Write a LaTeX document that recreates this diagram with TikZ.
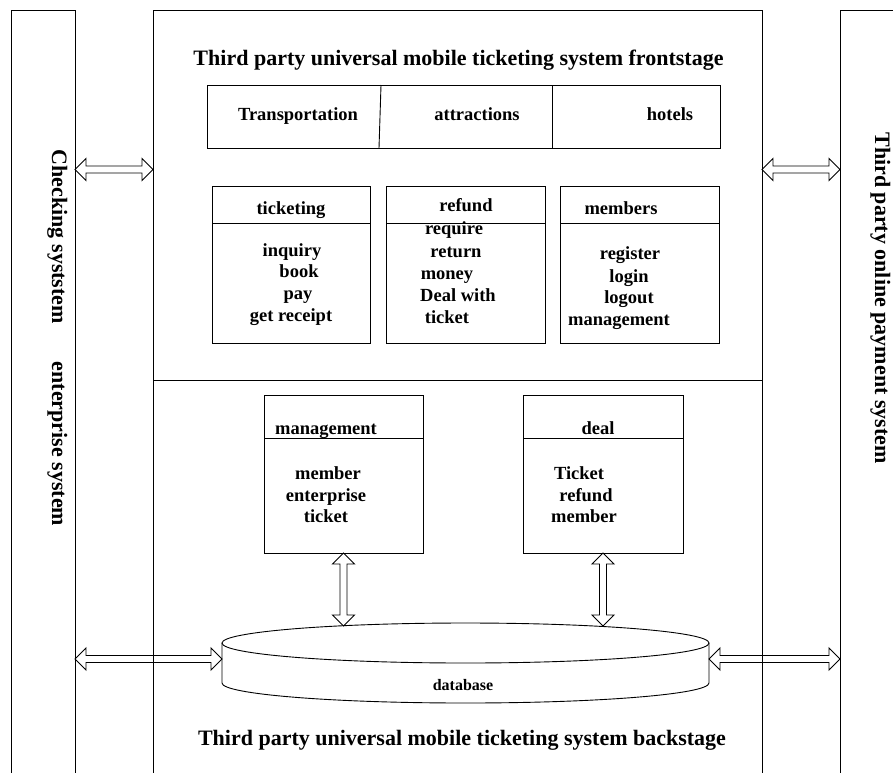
\documentclass[tikz,border=0pt]{standalone}
\usepackage{fontspec}
\setmainfont{Liberation Serif}
\usetikzlibrary{calc,shapes.geometric}

\def\ahead{11pt}   % head length
\def\awide{11pt}   % head half width
\def\ashaft{3.5pt} % shaft half width

\tikzset{
  barbox/.style={
    draw,
    rectangle,
    inner sep=0pt,
    outer sep=0pt
  },
  bigtxt/.style={
    font=\fontsize{22}{26}\selectfont\bfseries,
    inner sep=0pt,
    text height=15pt,
    text depth=5pt
  },
  itemtxt/.style={
    font=\fontsize{18.5}{22}\selectfont\bfseries,
    inner sep=0pt,
    text height=13pt,
    text depth=4.5pt
  },
  blockarrow/.style={to path={
    -- ($(\tikztostart)!\ahead!(\tikztotarget)!\awide!90:(\tikztotarget)$)
    -- ($(\tikztostart)!\ahead!(\tikztotarget)!\ashaft!90:(\tikztotarget)$)
    -- ($(\tikztotarget)!\ahead!(\tikztostart)!\ashaft!-90:(\tikztostart)$)
    -- ($(\tikztotarget)!\ahead!(\tikztostart)!\awide!-90:(\tikztostart)$)
    -- (\tikztotarget)
    -- ($(\tikztotarget)!\ahead!(\tikztostart)!\awide!90:(\tikztostart)$)
    -- ($(\tikztotarget)!\ahead!(\tikztostart)!\ashaft!90:(\tikztostart)$)
    -- ($(\tikztostart)!\ahead!(\tikztotarget)!\ashaft!-90:(\tikztotarget)$)
    -- ($(\tikztostart)!\ahead!(\tikztotarget)!\awide!-90:(\tikztotarget)$)
    -- cycle}}
}

\begin{document}
\begin{tikzpicture}[x=1pt,y=1pt,line width=0.9pt]

    \clip (0,0) rectangle (893,-772);

    % side systems and the two stages
    \node[barbox, minimum width=64pt, minimum height=780pt] (chk) at (43,-400) {};
    \node[barbox, minimum width=70pt, minimum height=780pt] (pay) at (875,-400) {};
    \node[barbox, minimum width=609pt, minimum height=370pt] (front) at (457.5,-195) {};
    \node[barbox, minimum width=609pt, minimum height=410pt] (back) at (457.5,-585) {};

    \node[bigtxt, rotate=-90] (chklbl) at (57,-338)
        {Checking syststem\hspace{38pt}enterprise system};
    \node[bigtxt, rotate=-90] (paylbl) at (880,-298)
        {Third party online payment system};

    % titles
    \node[bigtxt] (fronttitle) at (458.5,-60)
        {Third party universal mobile ticketing system frontstage};
    \node[bigtxt] (backtitle) at (462,-740)
        {Third party universal mobile ticketing system backstage};

    % categories
    \draw (207,-85) rectangle (720,-148);
    \draw (381,-85) -- (379,-148);
    \draw (552,-85) -- (552,-148);
    \foreach \tx/\x [count=\i] in {Transportation/298, attractions/477, hotels/670} {
        \node[itemtxt] (cat\i) at (\x,-116) {\tx};
    }

    % frontstage modules
    \foreach \nm/\cx/\w in {tick/291/158, refd/465.5/159, memb/639.5/159} {
        \node[barbox, minimum width=\w pt, minimum height=157pt] (\nm) at (\cx,-264.5) {};
        \draw ($(\nm.north west)+(0,-37)$) -- ($(\nm.north east)+(0,-37)$);
    }
    \foreach \tx/\x/\y [count=\i] in {ticketing/291/210, inquiry/292/252, book/299/273,
                          pay/298/295, get receipt/291/317} {
        \node[itemtxt] (tk\i) at (\x,-\y) {\tx};
    }
    \foreach \tx/\x/\y [count=\i] in {refund/466/207, require/454/230, return/456/253,
                          money/447/275, Deal with/458/297, ticket/447/319} {
        \node[itemtxt] (rf\i) at (\x,-\y) {\tx};
    }
    \foreach \tx/\x/\y [count=\i] in {members/621/210, register/630/255, login/629/278,
                          logout/629/299, management/619/321} {
        \node[itemtxt] (mb\i) at (\x,-\y) {\tx};
    }

    % backstage modules
    \foreach \nm/\cx/\w in {mgmt/343.5/159, deal/603/160} {
        \node[barbox, minimum width=\w pt, minimum height=158pt] (\nm) at (\cx,-474) {};
        \draw ($(\nm.north west)+(0,-43)$) -- ($(\nm.north east)+(0,-43)$);
    }
    \foreach \tx/\x/\y [count=\i] in {management/326/430, member/328/475,
                          enterprise/326/497, ticket/326/518} {
        \node[itemtxt] (mg\i) at (\x,-\y) {\tx};
    }
    \foreach \tx/\x/\y [count=\i] in {deal/598/430, Ticket/579/475,
                          refund/586/497, member/584/518} {
        \node[itemtxt] (dl\i) at (\x,-\y) {\tx};
    }

    % database
    \node[ellipse, draw, minimum width=487pt, minimum height=40pt,
          inner sep=0pt, outer sep=0pt] (dbtop) at (465.5,-643) {};
    \draw (dbtop.west) -- ++(0,-40)
        arc[start angle=180, end angle=360, x radius=243.5, y radius=20]
        -- (dbtop.east);
    \node[font=\fontsize{16}{19}\selectfont\bfseries, inner sep=0pt] (dblbl)
        at (463,-685) {database};

    % arrow ends
    \coordinate (chkA) at (chk.east |- 0,-169.5);
    \coordinate (frontA) at (front.west |- chkA);
    \coordinate (payA) at (pay.west |- 0,-169.5);
    \coordinate (frontB) at (front.east |- payA);
    \coordinate (dbL) at ($(dbtop.west)+(0,-16)$);
    \coordinate (dbR) at ($(dbtop.east)+(0,-16)$);
    \coordinate (chkB) at (chk.east |- dbL);
    \coordinate (payB) at (pay.west |- dbR);
    \coordinate (mgDb) at ($(mgmt.south |- dbtop.north)+(0,-3)$);
    \coordinate (dlDb) at ($(deal.south |- dbtop.north)+(0,-3)$);

    % double arrows
    \draw[blockarrow] (chkA) to (frontA);
    \draw[blockarrow] (frontB) to (payA);
    \draw[blockarrow] (chkB) to (dbL);
    \draw[blockarrow] (dbR) to (payB);
    \draw[blockarrow] (mgmt.south) to (mgDb);
    \draw[blockarrow] (deal.south) to (dlDb);

\end{tikzpicture}
\end{document}
